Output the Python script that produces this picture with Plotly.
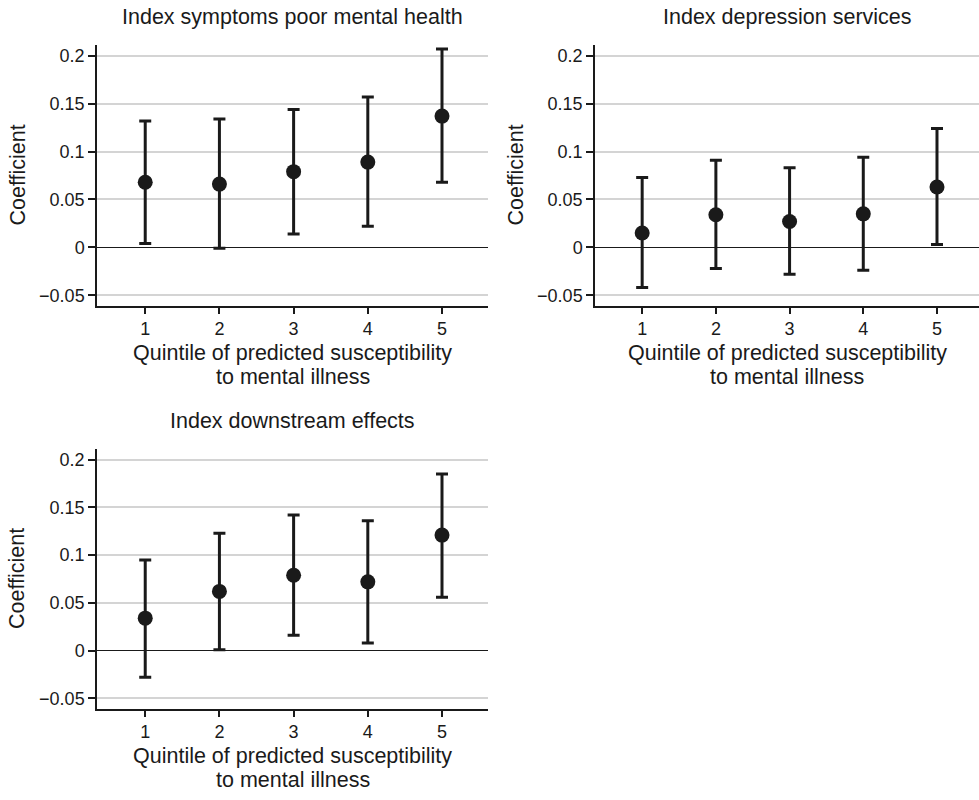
import plotly.graph_objects as go

# ---- data ----
quintiles = [1, 2, 3, 4, 5]

titles = ["Index symptoms poor mental health",
          "Index depression services",
          "Index downstream effects"]

coef_symptoms = [0.068, 0.066, 0.079, 0.089, 0.137]
lo_symptoms = [0.004, -0.001, 0.014, 0.022, 0.068]
hi_symptoms = [0.132, 0.134, 0.144, 0.157, 0.207]

coef_services = [0.015, 0.034, 0.027, 0.035, 0.063]
lo_services = [-0.042, -0.022, -0.028, -0.024, 0.003]
hi_services = [0.073, 0.091, 0.083, 0.094, 0.124]

coef_downstream = [0.034, 0.062, 0.079, 0.072, 0.121]
lo_downstream = [-0.028, 0.001, 0.016, 0.008, 0.056]
hi_downstream = [0.095, 0.123, 0.142, 0.136, 0.185]

ytick_vals = [-0.05, 0, 0.05, 0.1, 0.15, 0.2]
ytick_text = ["\u22120.05", "0", "0.05", "0.1", "0.15", "0.2"]
xtitle_line1 = "Quintile of predicted susceptibility"
xtitle_line2 = "to mental illness"
ytitle = "Coefficient"

series = [
    (coef_symptoms, lo_symptoms, hi_symptoms),
    (coef_services, lo_services, hi_services),
    (coef_downstream, lo_downstream, hi_downstream),
]

# ---- layout geometry (pixels) ----
W, H = 979, 800
panels = [
    dict(x0=97, x1=488, y0=45, y1=306, xr=[0.35, 5.62]),
    dict(x0=595, x1=979, y0=45, y1=306, xr=[0.36, 5.57]),
    dict(x0=97, x1=488, y0=449, y1=709, xr=[0.35, 5.62]),
]

FONT = "Liberation Sans, Arial, Helvetica, sans-serif"
INK = "#1a1a1a"
TITLE_SIZE = 21.5
TICK_SIZE = 18
fig = go.Figure()
annotations = []

for i, ((c, lo, hi), p, t) in enumerate(zip(series, panels, titles)):
    n = "" if i == 0 else str(i + 1)
    up = [h - v for h, v in zip(hi, c)]
    dn = [v - l for v, l in zip(c, lo)]
    fig.add_trace(go.Scatter(
        x=quintiles, y=c, mode="markers", xaxis="x" + n, yaxis="y" + n,
        marker=dict(size=15, color=INK),
        error_y=dict(type="data", array=up, arrayminus=dn, symmetric=False,
                     color=INK, thickness=3, width=6),
        showlegend=False, cliponaxis=False,
    ))
    xd = [p["x0"] / W, p["x1"] / W]
    yd = [1 - p["y1"] / H, 1 - p["y0"] / H]
    fig.update_layout(**{
        "xaxis" + n: dict(
            domain=xd, range=p["xr"], anchor="y" + n,
            tickvals=quintiles, ticks="outside", ticklen=6, tickwidth=1.5,
            tickcolor=INK, showline=True, linecolor=INK, linewidth=1.5,
            showgrid=False, zeroline=False,
            tickfont=dict(family=FONT, size=TICK_SIZE, color=INK),
        ),
        "yaxis" + n: dict(
            domain=yd, range=[-0.0612, 0.2112], anchor="x" + n,
            tickvals=ytick_vals, ticktext=ytick_text, ticks="outside",
            ticklen=7, tickwidth=1.5, tickcolor=INK, showline=True,
            linecolor=INK, linewidth=1.5, showgrid=True, gridcolor="#d4d4d4",
            gridwidth=1.5, zeroline=True, zerolinecolor=INK, zerolinewidth=1.2,
            tickfont=dict(family=FONT, size=TICK_SIZE, color=INK),
        ),
    })
    cx = (p["x0"] + p["x1"]) / 2 / W
    cy = (p["y0"] + p["y1"]) / 2
    annotations.append(dict(text=t, x=cx, y=1 - (p["y0"] - 28) / H,
                            xref="paper", yref="paper", showarrow=False,
                            xanchor="center", yanchor="middle",
                            font=dict(family=FONT, size=TITLE_SIZE, color=INK)))
    annotations.append(dict(text=xtitle_line1, x=cx, y=1 - (p["y1"] + 47) / H,
                            xref="paper", yref="paper", showarrow=False,
                            xanchor="center", yanchor="middle",
                            font=dict(family=FONT, size=TITLE_SIZE, color=INK)))
    annotations.append(dict(text=xtitle_line2, x=cx, y=1 - (p["y1"] + 71) / H,
                            xref="paper", yref="paper", showarrow=False,
                            xanchor="center", yanchor="middle",
                            font=dict(family=FONT, size=TITLE_SIZE, color=INK)))
    annotations.append(dict(text=ytitle, x=(p["x0"] - 80) / W, y=1 - cy / H,
                            xref="paper", yref="paper", showarrow=False,
                            xanchor="center", yanchor="middle", textangle=-90,
                            font=dict(family=FONT, size=TITLE_SIZE, color=INK)))

fig.update_layout(
    width=W, height=H, margin=dict(l=0, r=0, t=0, b=0),
    paper_bgcolor="white", plot_bgcolor="white",
    annotations=annotations,
)

fig.write_html(
    "out.html",
    config={"displayModeBar": False},
    post_script="document.body.style.margin='0';"
                "document.body.style.overflow='hidden';",
)
